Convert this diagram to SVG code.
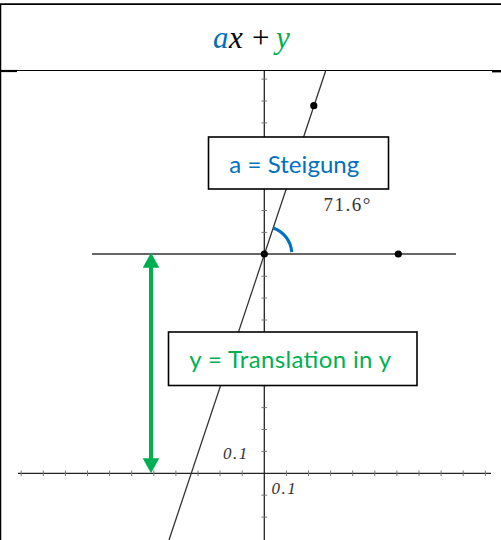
<svg xmlns="http://www.w3.org/2000/svg" width="501" height="540" viewBox="0 0 501 540">
<defs>
<style>
.frame{stroke:#000;fill:none}
.axis{stroke:#222;stroke-width:1.3;fill:none}
.tick{stroke:#777;stroke-width:1;fill:none}
.gline{stroke:#333;stroke-width:1.3;fill:none}
.dot{fill:#000}
.box{fill:#fff;stroke:#000;stroke-width:1.6}
.lbl{font-family:Lato,"Liberation Sans",sans-serif;font-size:24px}
.num{font-family:"Liberation Serif",serif;font-style:italic;font-size:17px;fill:#333;letter-spacing:1.5px}
.ang{font-family:"Liberation Serif",serif;font-size:19px;fill:#333;letter-spacing:1.5px}
.math{font-family:"Liberation Serif",serif;font-size:31px}
</style>
<marker id="ah" markerUnits="userSpaceOnUse" markerWidth="16" markerHeight="17" refX="2" refY="8.3" orient="auto-start-reverse">
<path d="M0,0 L15,8.3 L0,16.6 Z" fill="#00B050"/>
</marker>
</defs>
<rect width="501" height="540" fill="#fff"/>
<g id="table">
<line class="frame" x1="0" y1="4.2" x2="501" y2="4.2" stroke-width="1.8"/>
<line class="frame" x1="0.6" y1="4" x2="0.6" y2="540" stroke-width="1.3"/>
<line class="frame" x1="0" y1="70.5" x2="501" y2="70.5" stroke-width="1.1"/>
<line class="frame" x1="0" y1="71" x2="17" y2="71" stroke-width="2.2"/>
<line class="frame" x1="492" y1="71.2" x2="501" y2="71.2" stroke-width="2.4"/>
</g>
<g id="title">
<text class="math" y="47.7"><tspan x="213" font-style="italic" fill="#0070C0">a</tspan><tspan x="229" font-style="italic" fill="#000">x</tspan><tspan x="252" fill="#000">+</tspan><tspan x="276" font-style="italic" fill="#00B050">y</tspan></text>
</g>
<g id="axes">
<line class="axis" x1="264.3" y1="71" x2="264.3" y2="540"/>
<line class="axis" x1="18" y1="473.3" x2="491" y2="473.3"/>
<path class="tick" d="M21.2,470.5v5.6M43.3,470.5v5.6M65.4,470.5v5.6M87.5,470.5v5.6M109.6,470.5v5.6M131.7,470.5v5.6M153.8,470.5v5.6M175.9,470.5v5.6M198,470.5v5.6M220.1,470.5v5.6M242.2,470.5v5.6M286.4,470.5v5.6M308.5,470.5v5.6M330.6,470.5v5.6M352.7,470.5v5.6M374.8,470.5v5.6M396.9,470.5v5.6M419,470.5v5.6M441.1,470.5v5.6M463.2,470.5v5.6M485.3,470.5v5.6"/>
<path class="tick" d="M261.5,79.1h5.6M261.5,101h5.6M261.5,122.9h5.6M261.5,144.8h5.6M261.5,166.7h5.6M261.5,188.6h5.6M261.5,210.5h5.6M261.5,232.4h5.6M261.5,276.2h5.6M261.5,298.1h5.6M261.5,320h5.6M261.5,341.9h5.6M261.5,363.8h5.6M261.5,385.7h5.6M261.5,407.6h5.6M261.5,429.5h5.6M261.5,451.4h5.6M261.5,495.2h5.6M261.5,517.1h5.6"/>
<text class="num" x="223" y="459">0.1</text>
<text class="num" x="271.5" y="494.3">0.1</text>
</g>
<g id="lines">
<line class="gline" x1="92" y1="254" x2="456" y2="254"/>
<line class="gline" x1="325.6" y1="71" x2="169" y2="540"/>
</g>
<g id="angle">
<path d="M273.25,228 A27.5,27.5 0 0 1 291.73,252.1" fill="none" stroke="#0070C0" stroke-width="3"/>
<text class="ang" x="323.5" y="210.7">71.6°</text>
</g>
<g id="points">
<circle class="dot" cx="264.3" cy="254" r="3.6"/>
<circle class="dot" cx="398.3" cy="254" r="3.6"/>
<circle class="dot" cx="313.8" cy="105.7" r="3.6"/>
</g>
<g id="box-steigung">
<rect class="box" x="208.5" y="137" width="180" height="52"/>
<text class="lbl" x="229.3" y="172.7" fill="#0070C0" textLength="130" lengthAdjust="spacing">a = Steigung</text>
</g>
<g id="box-translation">
<rect class="box" x="168.5" y="332" width="248.5" height="53.5"/>
<text class="lbl" x="189.3" y="368.3" fill="#00B050" textLength="201.7" lengthAdjust="spacing">y = Translation in y</text>
</g>
<g id="connectors">
<line x1="151" y1="265.7" x2="151" y2="460.3" stroke="#00B050" stroke-width="4" marker-start="url(#ah)" marker-end="url(#ah)"/>
</g>
</svg>
